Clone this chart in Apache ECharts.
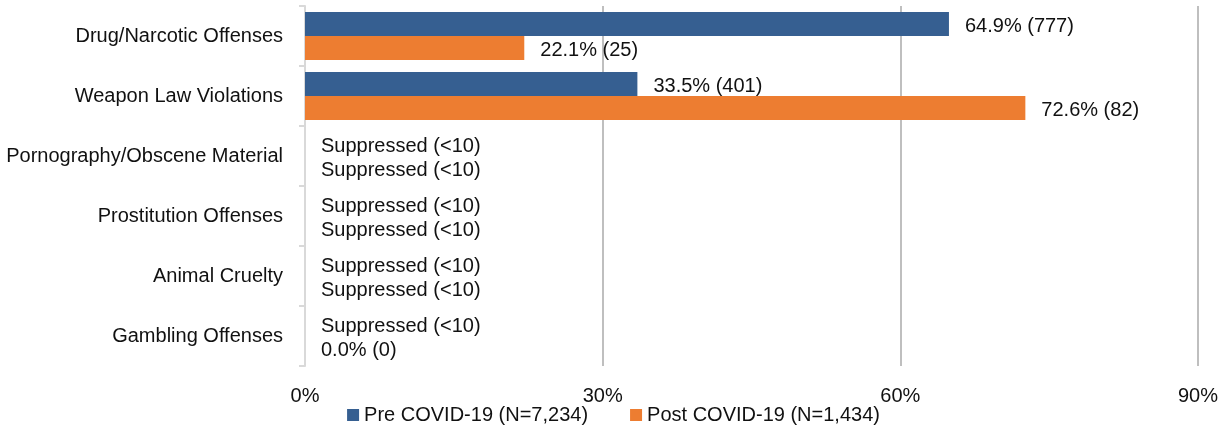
<!DOCTYPE html>
<html>
<head>
<meta charset="utf-8">
<script src="https://cdn.jsdelivr.net/npm/echarts@6/dist/echarts.min.js"></script>
<style>
html, body { margin: 0; padding: 0; background: #fff; }
#chart { width: 1227px; height: 429px; }
</style>
</head>
<body>
<div id="chart"></div>
<script>
var categories = ['Drug/Narcotic Offenses', 'Weapon Law Violations', 'Pornography/Obscene Material',
	'Prostitution Offenses', 'Animal Cruelty', 'Gambling Offenses'];
var preValues = [64.9, 33.5, 0, 0, 0, 0];
var preLabels = ['64.9% (777)', '33.5% (401)', 'Suppressed (<10)', 'Suppressed (<10)', 'Suppressed (<10)', 'Suppressed (<10)'];
var postValues = [22.1, 72.6, 0, 0, 0, 0];
var postLabels = ['22.1% (25)', '72.6% (82)', 'Suppressed (<10)', 'Suppressed (<10)', 'Suppressed (<10)', '0.0% (0)'];
var seriesNames = ['Pre COVID-19 (N=7,234)', 'Post COVID-19 (N=1,434)'];
var xTicks = [0, 30, 60, 90];

var font = '"Liberation Sans Narrow", "Arial Narrow", "Liberation Sans", sans-serif';
var myChart = echarts.init(document.getElementById('chart'));

function barLabel(labels) {
	return {
		show: true,
		position: 'right',
		distance: 16,
		offset: [0, 2],
		color: '#111',
		fontFamily: font,
		fontSize: 20,
		formatter: function(p) { return labels[p.dataIndex]; }
	};
}

var option = {
	animation: false,
	grid: { left: 305, right: 29, top: 6, bottom: 63, containLabel: false },
	legend: {
		bottom: -1,
		left: 'center',
		itemWidth: 12,
		itemHeight: 12,
		itemGap: 42,
		icon: 'rect',
		textStyle: { color: '#111', fontFamily: font, fontSize: 20 },
		data: seriesNames
	},
	xAxis: {
		type: 'value',
		min: xTicks[0],
		max: xTicks[xTicks.length - 1],
		interval: 30,
		axisLine: { show: false },
		axisTick: { show: false },
		axisLabel: { color: '#111', fontFamily: font, fontSize: 20, margin: 20,
			formatter: function(v) { return v + '%'; } },
		splitLine: { lineStyle: { color: '#bfbfbf', width: 2 } }
	},
	yAxis: {
		type: 'category',
		inverse: true,
		data: categories,
		axisLine: { lineStyle: { color: '#d9d9d9', width: 2 } },
		axisTick: { show: true, length: 6, lineStyle: { color: '#d9d9d9', width: 2 } },
		axisLabel: { color: '#111', fontFamily: font, fontSize: 20, margin: 22, padding: [2, 0, 0, 0] }
	},
	series: [
		{ name: seriesNames[0], type: 'bar', data: preValues, barWidth: 24, barGap: '0%',
			itemStyle: { color: '#365F91' }, label: barLabel(preLabels) },
		{ name: seriesNames[1], type: 'bar', data: postValues, barWidth: 24,
			itemStyle: { color: '#ED7D31' }, label: barLabel(postLabels) }
	]
};

myChart.setOption(option);
</script>
</body>
</html>
